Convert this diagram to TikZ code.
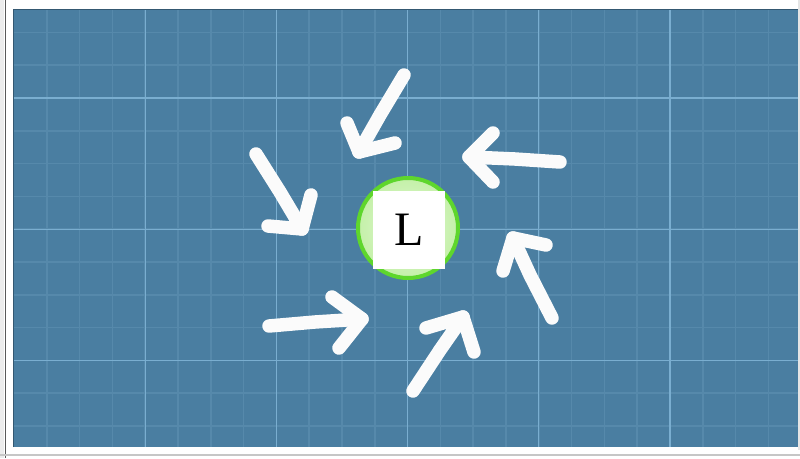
\documentclass[tikz,border=0pt]{standalone}
\usepackage{fontspec}
\newfontfamily\lserif{Liberation Serif}
\usetikzlibrary{shadings}
\definecolor{bgblue}{HTML}{4A7EA1}
\definecolor{minorc}{HTML}{5689AB}
\definecolor{majorc}{HTML}{7AAED0}
\definecolor{ringgreen}{HTML}{5ED62C}
\definecolor{fillin}{HTML}{E4F8D8}
\definecolor{fillout}{HTML}{C4F0A8}
\tikzset{
  minorline/.style={draw=minorc, line width=1.6pt},
  majorline/.style={draw=majorc, line width=1.2pt},
  chalk/.style={draw=white!97!gray, line width=13.5pt, line cap=round, line join=round},
}
\begin{document}
\begin{tikzpicture}[x=1pt,y=-1pt]
\useasboundingbox (0,0) rectangle (800,458);
% frame
\fill[white] (0,0) rectangle (800,458);
\fill[gray!15] (0,0) rectangle (4,458);
\draw[gray!70!black, line width=1.5pt] (5.5,0) -- (5.5,458);
\draw[gray!45, line width=1.5pt] (0,455) -- (800,455);
\fill[gray!20] (798,0) rectangle (800,450);
% blue board
\fill[bgblue] (13,9) rectangle (798,447);
\begin{scope}
\clip (13,9) rectangle (798,447);
\foreach \k in {1,...,24} {\draw[minorline] ({14+32.8*\k},9) -- ({14+32.8*\k},447);}
\foreach \k in {-2,...,10} {\draw[minorline] (13,{98+32.8*\k}) -- (798,{98+32.8*\k});}
\foreach \k in {4,8,12,16,20} {\draw[majorline] ({14+32.8*\k},9) -- ({14+32.8*\k},447);}
\foreach \k in {0,4,8} {\draw[majorline] (13,{98+32.8*\k}) -- (798,{98+32.8*\k});}
\end{scope}
\draw[bgblue!70!black, line width=1pt] (13.5,447) -- (13.5,9.5) -- (798,9.5);
% centre
\node[circle, minimum size=100pt, inner sep=0pt, inner color=fillin, outer color=fillout,
      draw=ringgreen, line width=4pt] (ring) at (408,228) {};
\node[fill=white, minimum width=72pt, minimum height=78pt, inner sep=0pt,
      font=\lserif\fontsize{48}{52}\selectfont] (L) at (409,230) {L};
% arrows
\coordinate (t1) at (359,152);
\draw[chalk] (404,75) -- (380,115) -- (t1);
\draw[chalk] (347,123) -- (t1) -- (395,143);
\coordinate (t2) at (469,157);
\draw[chalk] (560,162) -- (515,159) -- (t2);
\draw[chalk] (493,133) -- (t2) -- (493,182);
\coordinate (t3) at (302,229);
\draw[chalk] (256,154) -- (280,192) -- (t3);
\draw[chalk] (268,226) -- (t3) -- (311,195);
\coordinate (t4) at (362,319);
\draw[chalk] (269,326) -- (315,322) -- (t4);
\draw[chalk] (332,297) -- (t4) -- (339,348);
\coordinate (t5) at (463,317);
\draw[chalk] (413,391) -- (440,350) -- (t5);
\draw[chalk] (426,328) -- (t5) -- (474,352);
\coordinate (t6) at (513,238);
\draw[chalk] (552,318) -- (530,275) -- (t6);
\draw[chalk] (546,245) -- (t6) -- (503,271);
\end{tikzpicture}
\end{document}
